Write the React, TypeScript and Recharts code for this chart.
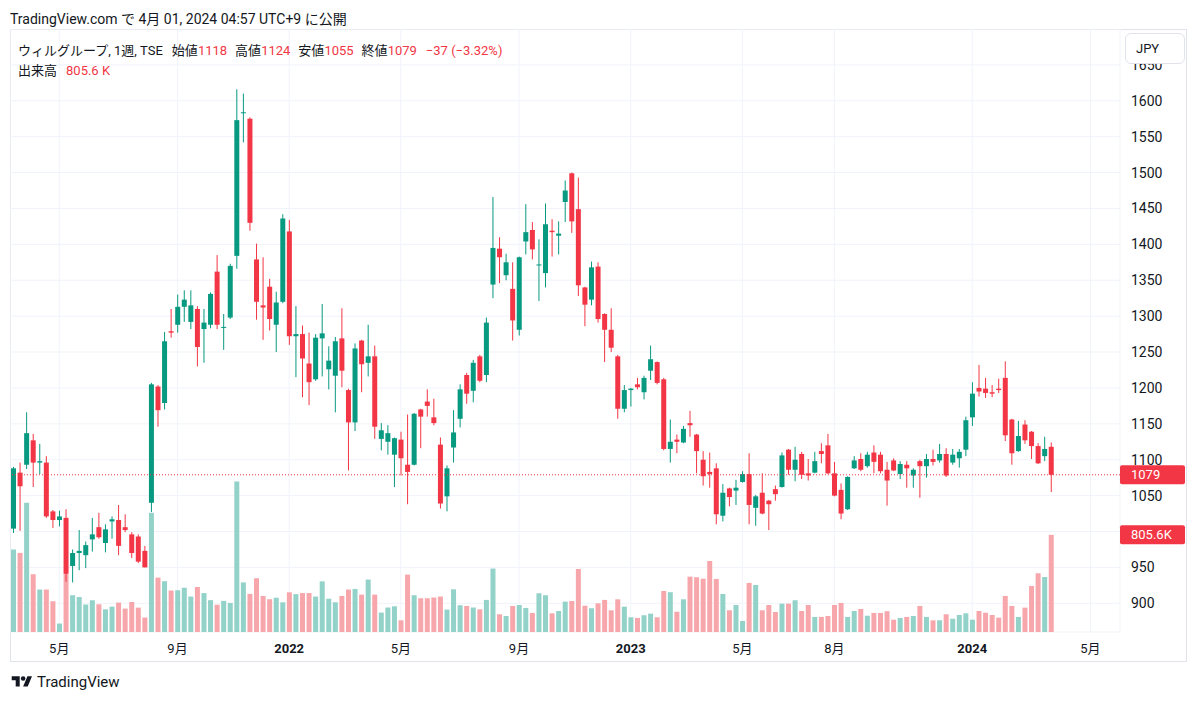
import React from 'react';
import { ComposedChart, Bar, XAxis, YAxis, CartesianGrid, ReferenceLine, Cell } from 'recharts';

// weekly bars, first week = 2021-03-15, last = 2024-03-25
const opens = [
  1004, 1082, 1093, 1127, 1096, 1096, 1028, 1016, 1019, 952,
  970, 967, 989, 1006, 984, 1014, 1016, 1006, 996, 993,
  973, 1040, 1202, 1179, 1279, 1288, 1313, 1292, 1310, 1282,
  1288, 1362, 1284, 1298, 1384, 1583, 1575, 1379, 1315, 1341,
  1288, 1320, 1418, 1272, 1275, 1234, 1212, 1269, 1226, 1217,
  1269, 1197, 1152, 1266, 1235, 1244, 1129, 1125, 1107, 1128,
  1093, 1093, 1170, 1181, 1159, 1121, 1049, 1117, 1157, 1218,
  1196, 1244, 1218, 1344, 1394, 1357, 1338, 1281, 1404, 1420,
  1371, 1360, 1419, 1412, 1459, 1499, 1449, 1340, 1323, 1369,
  1303, 1281, 1244, 1171, 1197, 1205, 1194, 1224, 1236, 1212,
  1115, 1128, 1124, 1151, 1135, 1100, 1083, 1088, 1022, 1060,
  1057, 1069, 1080, 1033, 1054, 1043, 1059, 1062, 1114, 1086,
  1108, 1081, 1082, 1112, 1120, 1081, 1058, 1031, 1088, 1101,
  1091, 1110, 1107, 1086, 1099, 1080, 1093, 1078, 1098, 1091,
  1101, 1099, 1108, 1096, 1102, 1114, 1159, 1200, 1199, 1194,
  1199, 1214, 1156, 1112, 1149, 1139, 1119, 1105, 1118,
];

const highs = [
  1090, 1096, 1166, 1136, 1122, 1105, 1030, 1029, 1031, 975,
  1002, 986, 1019, 1026, 1010, 1021, 1037, 1024, 999, 996,
  980, 1207, 1204, 1278, 1310, 1330, 1336, 1336, 1314, 1310,
  1333, 1385, 1303, 1373, 1616, 1610, 1577, 1401, 1382, 1352,
  1334, 1442, 1434, 1314, 1287, 1277, 1275, 1317, 1258, 1271,
  1311, 1199, 1262, 1267, 1288, 1259, 1151, 1148, 1131, 1139,
  1163, 1165, 1171, 1198, 1185, 1131, 1092, 1169, 1205, 1221,
  1239, 1246, 1298, 1466, 1410, 1387, 1375, 1383, 1456, 1431,
  1407, 1457, 1435, 1432, 1489, 1500, 1493, 1341, 1376, 1375,
  1304, 1311, 1246, 1204, 1200, 1214, 1217, 1259, 1237, 1214,
  1156, 1135, 1147, 1168, 1136, 1112, 1110, 1095, 1066, 1061,
  1072, 1084, 1109, 1051, 1081, 1044, 1064, 1110, 1115, 1118,
  1111, 1101, 1111, 1123, 1136, 1097, 1067, 1077, 1105, 1109,
  1111, 1120, 1111, 1097, 1102, 1098, 1098, 1088, 1100, 1108,
  1114, 1122, 1116, 1115, 1115, 1160, 1208, 1232, 1214, 1204,
  1213, 1237, 1157, 1154, 1155, 1140, 1123, 1132, 1124,
];

const lows = [
  998, 1001, 1087, 1062, 1080, 1019, 1005, 1007, 930, 929,
  946, 949, 972, 990, 971, 990, 967, 999, 963, 956,
  950, 1027, 1146, 1170, 1270, 1277, 1292, 1282, 1230, 1235,
  1283, 1282, 1253, 1296, 1366, 1542, 1419, 1295, 1267, 1280,
  1250, 1318, 1260, 1215, 1187, 1176, 1210, 1216, 1198, 1166,
  1201, 1085, 1140, 1194, 1216, 1129, 1113, 1107, 1062, 1078,
  1038, 1092, 1116, 1160, 1148, 1032, 1028, 1096, 1145, 1178,
  1180, 1208, 1208, 1325, 1346, 1350, 1266, 1273, 1386, 1379,
  1321, 1340, 1383, 1386, 1431, 1416, 1328, 1286, 1315, 1291,
  1236, 1250, 1157, 1166, 1174, 1198, 1184, 1211, 1205, 1113,
  1096, 1109, 1123, 1132, 1081, 1064, 1061, 1010, 1014, 1035,
  1037, 1068, 1010, 1008, 1024, 1002, 1043, 1061, 1079, 1070,
  1073, 1071, 1081, 1095, 1080, 1049, 1017, 1030, 1087, 1084,
  1089, 1081, 1081, 1036, 1084, 1073, 1061, 1061, 1047, 1075,
  1092, 1096, 1076, 1093, 1089, 1105, 1147, 1188, 1186, 1187,
  1193, 1126, 1093, 1111, 1122, 1101, 1094, 1098, 1055,
];

const closes = [
  1088, 1063, 1137, 1096, 1098, 1021, 1016, 1021, 941, 970,
  973, 981, 996, 992, 1003, 1017, 980, 1002, 970, 958,
  950, 1205, 1169, 1265, 1277, 1313, 1323, 1315, 1257, 1291,
  1331, 1288, 1285, 1370, 1573, 1584, 1430, 1320, 1312, 1296,
  1319, 1436, 1272, 1275, 1241, 1208, 1270, 1276, 1238, 1265,
  1224, 1152, 1255, 1233, 1244, 1146, 1141, 1137, 1130, 1102,
  1083, 1164, 1160, 1175, 1151, 1039, 1088, 1138, 1198, 1192,
  1235, 1210, 1291, 1395, 1382, 1375, 1294, 1382, 1417, 1393,
  1372, 1428, 1417, 1415, 1475, 1432, 1343, 1316, 1368, 1296,
  1281, 1256, 1171, 1197, 1199, 1201, 1214, 1240, 1207, 1115,
  1125, 1125, 1143, 1148, 1112, 1077, 1080, 1024, 1054, 1048,
  1061, 1080, 1037, 1049, 1025, 1038, 1052, 1106, 1086, 1100,
  1079, 1078, 1098, 1108, 1081, 1050, 1025, 1076, 1099, 1086,
  1107, 1097, 1084, 1071, 1085, 1094, 1088, 1086, 1091, 1101,
  1097, 1108, 1078, 1107, 1111, 1155, 1192, 1195, 1193, 1192,
  1197, 1134, 1109, 1133, 1127, 1119, 1095, 1115, 1079,
];

// 出来高 (thousands of shares)
const volumesK = [
  684, 656, 1071, 479, 352, 352, 255, 70, 480, 305,
  290, 228, 263, 230, 188, 210, 244, 194, 249, 202,
  120, 988, 451, 421, 344, 346, 367, 294, 373, 323,
  264, 226, 258, 241, 1248, 411, 316, 446, 299, 272,
  284, 246, 329, 314, 323, 323, 294, 420, 276, 246,
  299, 352, 357, 310, 435, 310, 161, 203, 213, 97,
  476, 305, 280, 280, 286, 294, 186, 354, 222, 216,
  203, 188, 266, 526, 147, 133, 216, 224, 199, 158,
  321, 305, 155, 174, 252, 257, 523, 218, 197, 238,
  266, 180, 271, 210, 122, 117, 139, 152, 122, 340,
  330, 168, 271, 459, 454, 442, 589, 440, 315, 180,
  224, 91, 407, 390, 180, 224, 166, 235, 235, 263,
  174, 224, 125, 125, 133, 224, 241, 125, 174, 191,
  135, 158, 158, 172, 102, 116, 125, 133, 216, 125,
  97, 97, 147, 110, 141, 155, 102, 174, 160, 141,
  119, 299, 216, 125, 202, 382, 487, 456, 805.6,
];

const priceTicks = [900, 950, 1000, 1050, 1100, 1150, 1200, 1250, 1300, 1350, 1400, 1450, 1500, 1550, 1600, 1650];
const hiddenPriceLabels = [1000]; // covered by the volume tag in the original
const monthTicks = ['2021-05-03', '2021-09-06', '2022-01-03', '2022-05-02', '2022-09-05', '2023-01-02', '2023-05-01', '2023-08-07', '2024-01-01', '2024-05-06'];
const tickLabels = ['5月', '9月', '2022', '5月', '9月', '2023', '5月', '8月', '2024', '5月'];

const SLOT_COUNT = 169; // weeks shown on the time scale, incl. empty space on the right
const UP = '#089981';
const DOWN = '#F23645';
const UP_VOL = '#92D2C8';
const DOWN_VOL = '#F7A7AB';
const TEXT = '#131722';
const GRID = '#F0F3FA';

const weeks = Array.from({ length: SLOT_COUNT }, (_, i) => {
  const d = new Date(Date.UTC(2021, 2, 15 + i * 7));
  return d.toISOString().slice(0, 10);
});

const data = weeks.map((date, i) =>
  i < opens.length
    ? {
        date,
        open: opens[i],
        high: highs[i],
        low: lows[i],
        close: closes[i],
        range: [lows[i], highs[i]],
        volume: volumesK[i] * 1000,
      }
    : { date }
);

const Candle = (props: any) => {
  const { x, y, width, height, payload } = props;
  if (!payload || payload.open == null) return null;
  const { open, close, high, low } = payload;
  const color = close >= open ? UP : DOWN;
  const k = high > low ? height / (high - low) : 0;
  const cx = x + width / 2;
  const yOpen = y + (high - open) * k;
  const yClose = y + (high - close) * k;
  const top = Math.min(yOpen, yClose);
  const bodyH = Math.max(Math.abs(yOpen - yClose), 1);
  return (
    <g>
      <line x1={cx} x2={cx} y1={y} y2={y + height} stroke={color} strokeWidth={1} />
      <rect x={x} y={top} width={width} height={bodyH} fill={color} />
    </g>
  );
};

const TimeTick = (props: any) => {
  const { x, y, payload } = props;
  const label = tickLabels[monthTicks.indexOf(payload.value)];
  const isYear = /^\d{4}$/.test(label || '');
  return (
    <text x={x} y={y} dy={13} textAnchor="middle" fontSize={13} fontWeight={isYear ? 700 : 400} fill={TEXT}>
      {label}
    </text>
  );
};

const PriceTick = (props: any) => {
  const { x, y, payload } = props;
  if (hiddenPriceLabels.includes(payload.value)) return null;
  return (
    <text x={x} y={y} dy={5} textAnchor="start" fontSize={14} fill={TEXT}>
      {payload.value}
    </text>
  );
};

const tag = (text: string) => (props: any) => {
  const { viewBox } = props;
  const left = viewBox.x + viewBox.width;
  const cy = viewBox.y;
  return (
    <g>
      <rect x={left} y={cy - 9.5} width={65} height={19} rx={2} fill={DOWN} />
      <text x={left + 11} y={cy} dy={4.5} fontSize={13} fill="#ffffff">
        {text}
      </text>
    </g>
  );
};

const lastClose = closes[closes.length - 1];
const lastVolume = volumesK[volumesK.length - 1];

export default function App() {
  return (
    <div
      style={{
        position: 'absolute',
        left: 0,
        top: 0,
        width: 1200,
        height: 701,
        background: '#ffffff',
        fontFamily: 'Roboto, "Noto Sans CJK JP", sans-serif',
        color: TEXT,
        overflow: 'hidden',
      }}
    >
      <div style={{ position: 'absolute', left: 10, top: 8, fontSize: 14, whiteSpace: 'nowrap' }}>
        TradingView.com で 4月 01, 2024 04:57 UTC+9 に公開
      </div>

      <div
        style={{
          position: 'absolute',
          left: 10,
          top: 29,
          width: 1175,
          height: 631,
          border: '1px solid #E0E3EB',
        }}
      />

      <div style={{ position: 'absolute', left: 10, top: 29 }}>
        <ComposedChart
          width={1177}
          height={633}
          data={data}
          margin={{ top: 0, right: 0, bottom: 0, left: 0 }}
          barGap={-5}
          barCategoryGap={0}
        >
          <CartesianGrid stroke={GRID} yAxisId="price" />
          <XAxis
            dataKey="date"
            ticks={monthTicks}
            interval={0}
            height={30}
            tick={<TimeTick />}
            tickLine={false}
            axisLine={false}
          />
          <YAxis
            yAxisId="price"
            orientation="right"
            width={67}
            domain={[860, 1700]}
            ticks={priceTicks}
            interval={0}
            allowDataOverflow
            tickLine={false}
            axisLine={false}
            tickMargin={5}
            tick={<PriceTick />}
          />
          <YAxis yAxisId="vol" hide domain={[0, 5000000]} allowDataOverflow />
          <Bar yAxisId="vol" dataKey="volume" barSize={5} isAnimationActive={false}>
            {data.map((d: any, i) => (
              <Cell key={i} fill={d.close >= d.open ? UP_VOL : DOWN_VOL} />
            ))}
          </Bar>
          <Bar yAxisId="price" dataKey="range" barSize={5} shape={<Candle />} isAnimationActive={false} />
          <ReferenceLine
            yAxisId="price"
            y={lastClose}
            stroke={DOWN}
            strokeDasharray="1 2"
            label={tag(String(lastClose))}
          />
          <ReferenceLine
            yAxisId="vol"
            y={lastVolume * 1000}
            stroke="none"
            label={tag(`${lastVolume}K`)}
          />
        </ComposedChart>
      </div>

      <div style={{ position: 'absolute', left: 18, top: 40, fontSize: 13, whiteSpace: 'nowrap' }}>
        <span>ウィルグループ, 1週, TSE</span>
        <span style={{ marginLeft: 9 }}>始値</span>
        <span style={{ color: DOWN }}>{opens[opens.length - 1]}</span>
        <span style={{ marginLeft: 8 }}>高値</span>
        <span style={{ color: DOWN }}>{highs[highs.length - 1]}</span>
        <span style={{ marginLeft: 8 }}>安値</span>
        <span style={{ color: DOWN }}>{lows[lows.length - 1]}</span>
        <span style={{ marginLeft: 8 }}>終値</span>
        <span style={{ color: DOWN }}>{lastClose}</span>
        <span style={{ color: DOWN, marginLeft: 9 }}>−37 (−3.32%)</span>
      </div>
      <div style={{ position: 'absolute', left: 18, top: 60, fontSize: 13, whiteSpace: 'nowrap' }}>
        <span>出来高</span>
        <span style={{ color: DOWN, marginLeft: 9 }}>805.6 K</span>
      </div>

      <div
        style={{
          position: 'absolute',
          left: 1125,
          top: 33,
          width: 48,
          height: 29,
          border: '1px solid #E0E3EB',
          borderRadius: 6,
          background: '#ffffff',
          fontSize: 13,
          lineHeight: '29px',
          paddingLeft: 10,
        }}
      >
        JPY
      </div>

      <div style={{ position: 'absolute', left: 11, top: 673, display: 'flex', alignItems: 'center' }}>
        <svg width={22} height={16} viewBox="0 0 36 28">
          <path d="M14 22H7V11H0V4h14v18zM28 22h-8l7.5-18h8L28 22z" fill={TEXT} />
          <circle cx={20} cy={8} r={4} fill={TEXT} />
        </svg>
        <span style={{ marginLeft: 4, fontSize: 15 }}>TradingView</span>
      </div>
    </div>
  );
}
